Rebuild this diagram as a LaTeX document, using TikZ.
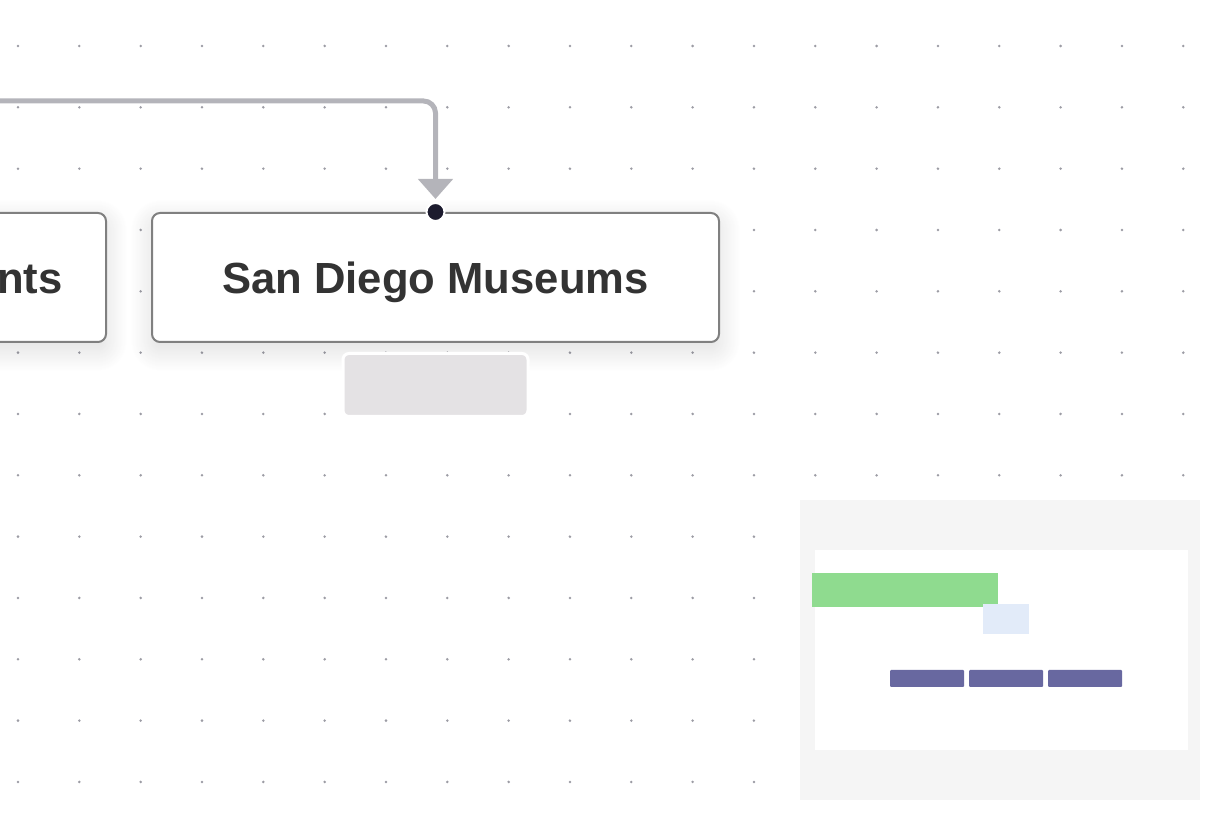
\documentclass[tikz,border=0pt]{standalone}
\usepackage{fontspec}
\setmainfont{Liberation Sans}
\usepackage{tikz}
\usetikzlibrary{positioning,arrows.meta,shadows.blur}

\definecolor{gridDot}{HTML}{9C9CA4}
\definecolor{cardLine}{HTML}{808080}
\definecolor{cardText}{HTML}{333333}
\definecolor{linkGray}{HTML}{B4B4BA}
\definecolor{portDark}{HTML}{1C1B2E}
\definecolor{badgeGray}{HTML}{E4E2E4}
\definecolor{mapBack}{HTML}{F5F5F5}
\definecolor{mapGreen}{HTML}{8FDB8F}
\definecolor{mapBlue}{HTML}{E2EBF9}
\definecolor{mapPurple}{HTML}{6868A0}

\tikzset{
  card/.style={draw=cardLine, line width=1pt, fill=white, rounded corners=4pt,
    minimum width=283.5pt, minimum height=64.5pt,
    blur shadow={shadow xshift=0pt, shadow yshift=-4pt, shadow blur radius=11pt,
      shadow blur steps=24, shadow opacity=14}},
  cardlabel/.style={text=cardText, text depth=0pt, font=\bfseries\fontsize{21.8}{26}\selectfont},
  link/.style={draw=linkGray, line width=2.5pt, rounded corners=6pt,
    -{Triangle[width=17pt,length=10pt]}},
  port/.style={circle, fill=portDark, draw=white, line width=1pt, minimum size=9pt, inner sep=0pt},
  badge/.style={fill=badgeGray, draw=white, line width=1.5pt, rounded corners=3pt,
    minimum width=92.5pt, minimum height=31.5pt}
}

\begin{document}
\begin{tikzpicture}[x=0.5pt, y=-0.5pt]
        \useasboundingbox (0,0) rectangle (1222,822);
        \clip (0,0) rectangle (1222,822);
        % dotted canvas
        \foreach \i in {0,...,19}
            \foreach \j in {0,...,12}
                \fill[gridDot] ({18+61.33*\i},{46+61.33*\j}) circle (0.7pt);

        \node[card, cardlabel] (museums) at (435.5,277.5) {San Diego Museums};
        \node[card, left=22pt of museums] (events) {};
        \node[cardlabel, inner sep=0pt, anchor=base east] (eventsText)
            at ([xshift=-22pt]events.east |- museums.base) {nts};
        \node[badge, below=4.5pt of museums] (museumsBadge) {};

        \coordinate (linkStart) at (-30,101);
        \draw[link, shorten >=6.5pt] (linkStart) -- (linkStart -| museums.north) -- (museums.north);
        \node[port] (museumsIn) at (museums.north) {};

        % minimap
        \fill[mapBack] (800,500) rectangle (1200,800);
        \fill[white] (815,550) rectangle (1188,750);
        \fill[mapGreen] (812,573) rectangle (998,607);
        \fill[mapBlue] (983,604) rectangle (1029,634);
        \foreach \x in {890,969,1048}
            \fill[mapPurple, rounded corners=0.5pt] (\x,670) rectangle ++(74,17);
    \end{tikzpicture}
\end{document}
